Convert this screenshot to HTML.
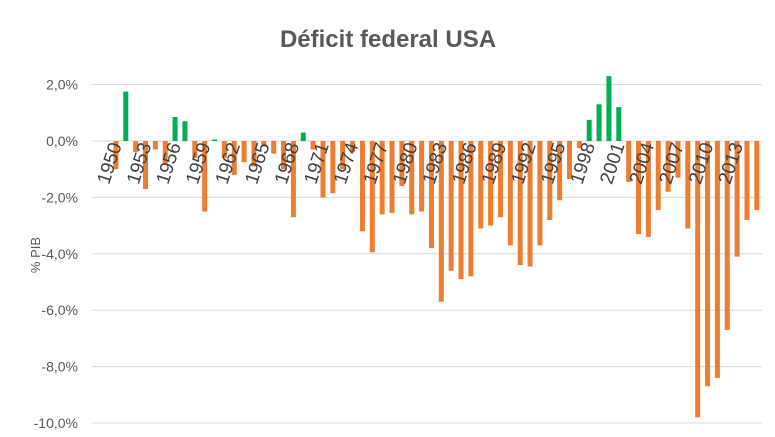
<!DOCTYPE html>
<html><head><meta charset="utf-8"><style>
body{margin:0;background:#fff;}
svg{display:block;font-family:"Liberation Sans",sans-serif;}
</style></head><body>
<svg id="chart" width="775" height="437">
<text x="388" y="47" text-anchor="middle" font-size="24" font-weight="bold" fill="#595959">Déficit federal USA</text>
<text transform="translate(40,255) rotate(-90)" text-anchor="middle" font-size="13" fill="#595959">% PIB</text>
<g id="grid"></g><g id="bars"></g><g id="xlabels"></g>
</svg>
<script>
const years=[];for(let y=1950;y<=2015;y++)years.push(y);
const values=[-1.0,1.75,-0.4,-1.7,-0.3,-0.8,0.85,0.7,-0.6,-2.5,0.05,-0.6,-1.2,-0.75,-0.9,-0.2,-0.45,-1.0,-2.7,0.3,-0.3,-2.0,-1.85,-1.0,-0.4,-3.2,-3.95,-2.6,-2.55,-1.6,
-2.6,-2.5,-3.8,-5.7,-4.6,-4.9,-4.8,-3.1,-3.0,-2.7,-3.7,-4.4,-4.45,-3.7,-2.8,-2.1,-1.35,-0.25,0.75,1.3,2.3,1.2,-1.45,-3.3,-3.4,-2.45,-1.8,-1.3,-3.1,-9.8,-8.7,-8.4,-6.7,-4.1,-2.8,-2.45];
const yTicks=[2,0,-2,-4,-6,-8,-10];
const yTickLabels=["2,0%","0,0%","-2,0%","-4,0%","-6,0%","-8,0%","-10,0%"];
const NS="http://www.w3.org/2000/svg";
const y0=141,pxPer=28.2,x0=111,step=9.86;
const Y=v=>y0-v*pxPer;
const X=i=>x0+step*i+step/2;
const grid=document.getElementById('grid'),bars=document.getElementById('bars'),xl=document.getElementById('xlabels');
yTicks.forEach((t,i)=>{
 const l=document.createElementNS(NS,'line');
 l.setAttribute('x1',92);l.setAttribute('x2',762);l.setAttribute('y1',Y(t));l.setAttribute('y2',Y(t));
 l.setAttribute('stroke','#d9d9d9');l.setAttribute('stroke-width','1');
 
 
 grid.appendChild(l);
 const tx=document.createElementNS(NS,'text');
 tx.setAttribute('x',78);tx.setAttribute('y',Y(t)+5);tx.setAttribute('text-anchor','end');
 tx.setAttribute('font-size','14');tx.setAttribute('fill','#595959');tx.textContent=yTickLabels[i];
 
 
 grid.appendChild(tx);
});
values.forEach((v,i)=>{
 const r=document.createElementNS(NS,'rect');
 const top=Math.min(Y(v),y0),h=Math.abs(Y(v)-y0);
 r.setAttribute('x',X(i)-2.5);r.setAttribute('width',5);r.setAttribute('y',top);r.setAttribute('height',Math.max(h,0.5));
 r.setAttribute('fill',v>=0?'#00B050':'#ED7D31');
 
 
 bars.appendChild(r);
});
years.forEach((y,i)=>{
 if((y-1950)%3)return;
 const t=document.createElementNS(NS,'text');
 const cx=X(i)+6,cy=145;
 t.setAttribute('transform','translate('+cx+','+cy+') rotate(-72)');
 t.setAttribute('text-anchor','end');t.setAttribute('font-size','19');t.setAttribute('fill','#404040');
 t.textContent=y;
 
 
 xl.appendChild(t);
});
</script>
</body></html>
